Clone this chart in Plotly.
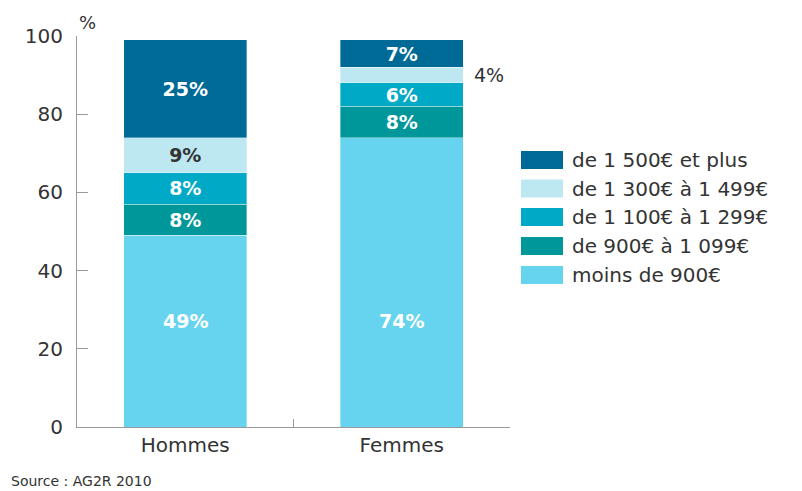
import plotly.graph_objects as go

categories = ["Hommes", "Femmes"]
series_names = ["moins de 900€", "de 900€ à 1 099€", "de 1 100€ à 1 299€",
                "de 1 300€ à 1 499€", "de 1 500€ et plus"]
moins_900 = [49, 74]
de_900_1099 = [8, 8]
de_1100_1299 = [8, 6]
de_1300_1499 = [9, 4]
de_1500_plus = [25, 7]
series_values = [moins_900, de_900_1099, de_1100_1299, de_1300_1499, de_1500_plus]
colors = ["#66D4EE", "#00979A", "#00A9C6", "#BDE7F1", "#006A96"]
text_colors = ["white", "white", "white", "#333333", "white"]
y_ticks = [0, 20, 40, 60, 80, 100]
bottom_label_y = 27  # the reference puts both bottom-segment labels at the same height

FONT = "DejaVu Sans"
OFF = 8  # page body margin offset
fig = go.Figure()
annotations = []
for s, (name, vals, col, tcol) in enumerate(zip(series_names, series_values, colors, text_colors)):
    if s == 0:
        texts = ["" for v in vals]
        for i, v in enumerate(vals):
            annotations.append(dict(x=i, y=bottom_label_y, xref="x", yref="y", text=f"{v}%",
                                    showarrow=False,
                                    font=dict(family=FONT, size=19, color=tcol, weight="bold")))
    else:
        texts = [f"{v}%" if v >= 5 else "" for v in vals]
    fig.add_trace(go.Bar(
        x=categories, y=vals, name=name, marker_color=col,
        marker_line=dict(width=0.6, color="rgba(255,255,255,0.6)"),
        text=texts, textposition="inside", insidetextanchor="middle",
        textangle=0, textfont=dict(family=FONT, size=19, color=tcol, weight="bold"),
        cliponaxis=False, showlegend=False,
    ))

# small segments labelled outside the bar
for i, cat in enumerate(categories):
    base = 0
    for vals in series_values:
        v = vals[i]
        if v < 5:
            annotations.append(dict(x=i, y=base + v / 2, xref="x", yref="y", text=f"{v}%",
                                    showarrow=False, xanchor="left", xshift=70,
                                    font=dict(family=FONT, size=19, color="#333333")))
        base += v

# plot area in picture pixels: x 77..510, y 36..427
L, T = 77 - OFF, 36 - OFF
W, H = 433, 391
R = 802 - L - W
B = 491 - T - H
def px_x(p): return (p - OFF - L) / W
def px_y(p): return (T + H - (p - OFF)) / H

shapes = []
centers = [160, 188.5, 217, 246, 275]
for k, idx in enumerate(reversed(range(len(series_names)))):
    cy = centers[k]
    shapes.append(dict(type="rect", xref="paper", yref="paper",
                       x0=px_x(521), x1=px_x(563), y0=px_y(cy + 9), y1=px_y(cy - 9),
                       fillcolor=colors[idx], line=dict(width=0)))
    annotations.append(dict(x=px_x(570), y=px_y(cy), xref="paper", yref="paper",
                            text=series_names[idx], showarrow=False, xanchor="left",
                            yanchor="middle",
                            font=dict(family=FONT, size=20, color="#333333")))

annotations.append(dict(x=px_x(77), y=px_y(22), xref="paper", yref="paper", text="%",
                        showarrow=False, xanchor="left", yanchor="middle",
                        font=dict(family=FONT, size=18, color="#333333")))
annotations.append(dict(x=px_x(9), y=px_y(481), xref="paper", yref="paper",
                        text="Source : AG2R 2010", showarrow=False, xanchor="left",
                        yanchor="middle", font=dict(family=FONT, size=14, color="#333333")))

fig.update_layout(
    barmode="stack", bargap=0.43,
    width=802, height=491,
    margin=dict(l=L, r=R, t=T, b=B),
    paper_bgcolor="white", plot_bgcolor="white",
    font=dict(family=FONT, color="#333333"),
    uniformtext=dict(minsize=19, mode="show"),
    shapes=shapes, annotations=annotations,
    xaxis=dict(showline=True, linecolor="#9a9a9a", linewidth=1.2,
               ticks="inside", tickson="boundaries", ticklen=8, tickcolor="#9a9a9a",
               tickfont=dict(family=FONT, size=20, color="#333333"),
               showgrid=False, zeroline=False),
    yaxis=dict(range=[0, 100], tickvals=y_ticks, showline=True, linecolor="#9a9a9a",
               linewidth=1.2, ticks="inside", ticklen=11, tickcolor="#9a9a9a",
               ticklabelstandoff=9,
               tickfont=dict(family=FONT, size=20, color="#333333"),
               showgrid=False, zeroline=False),
)

fig.write_html("out.html")
